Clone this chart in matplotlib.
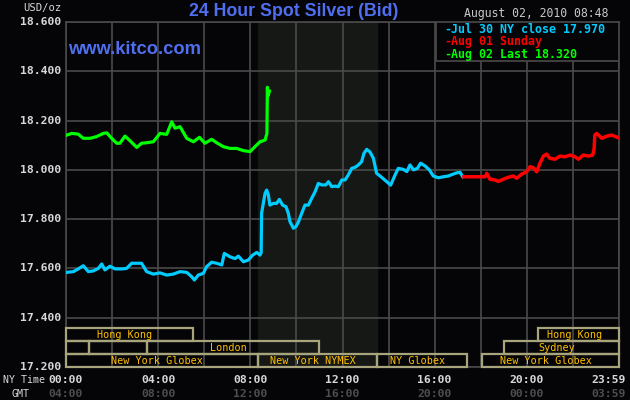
import matplotlib
matplotlib.use("Agg")
import matplotlib.pyplot as plt
from matplotlib.patches import Rectangle
from matplotlib.transforms import blended_transform_factory

# Jul 30 (NY close 17.970), hours NY time
jul30_h = [0.03, 0.32, 0.53, 0.75, 0.97, 1.19, 1.4, 1.55, 1.69, 1.91,
           2.13, 2.42, 2.63, 2.85, 3.07, 3.28, 3.5, 3.79, 4.08, 4.37,
           4.66, 4.95, 5.24, 5.46, 5.57, 5.74, 5.96, 6.1, 6.32, 6.54,
           6.76, 6.87, 7.12, 7.34, 7.48, 7.7, 7.91, 8.1, 8.28, 8.42,
           8.47, 8.49, 8.64, 8.71, 8.78, 8.85, 9.0, 9.14, 9.26, 9.4,
           9.55, 9.65, 9.72, 9.87, 9.98, 10.08, 10.23, 10.37, 10.52, 10.66,
           10.81, 10.95, 11.1, 11.28, 11.39, 11.53, 11.68, 11.82, 11.97, 12.11,
           12.25, 12.4, 12.54, 12.69, 12.83, 12.93, 13.05, 13.19, 13.34, 13.48,
           13.63, 13.92, 14.09, 14.28, 14.42, 14.64, 14.79, 14.93, 15.08, 15.25,
           15.39, 15.58, 15.77, 15.94, 16.16, 16.38, 16.59, 16.81, 16.96, 17.1,
           17.22]
jul30_v = [17.584, 17.587, 17.598, 17.611, 17.587, 17.590, 17.600, 17.618, 17.594, 17.609,
           17.598, 17.598, 17.600, 17.621, 17.621, 17.621, 17.587, 17.577, 17.582, 17.573,
           17.577, 17.587, 17.584, 17.566, 17.553, 17.573, 17.580, 17.607, 17.625, 17.621,
           17.614, 17.661, 17.647, 17.640, 17.650, 17.627, 17.634, 17.654, 17.665, 17.654,
           17.664, 17.825, 17.905, 17.918, 17.899, 17.857, 17.864, 17.864, 17.880, 17.857,
           17.850, 17.823, 17.790, 17.763, 17.770, 17.787, 17.824, 17.857, 17.857, 17.884,
           17.911, 17.945, 17.939, 17.939, 17.952, 17.932, 17.934, 17.932, 17.959, 17.959,
           17.979, 18.006, 18.010, 18.020, 18.033, 18.067, 18.083, 18.073, 18.047, 17.986,
           17.975, 17.952, 17.938, 17.979, 18.006, 18.002, 17.993, 18.020, 18.000, 18.006,
           18.027, 18.016, 18.000, 17.975, 17.968, 17.972, 17.975, 17.983, 17.988, 17.990,
           17.972]

# Aug 01 Sunday
aug01_h = [17.27, 18.19, 18.26, 18.4, 18.62, 18.76, 18.98, 19.2, 19.41, 19.56,
           19.78, 19.99, 20.14, 20.28, 20.43, 20.57, 20.72, 20.86, 21.0, 21.22,
           21.44, 21.66, 21.88, 22.09, 22.24, 22.45, 22.67, 22.86, 22.92, 22.95,
           23.03, 23.18, 23.25, 23.47, 23.69, 23.98]
aug01_v = [17.972, 17.972, 17.986, 17.962, 17.959, 17.953, 17.962, 17.970, 17.975, 17.966,
           17.983, 17.992, 18.013, 18.009, 17.992, 18.027, 18.056, 18.064, 18.047, 18.043,
           18.056, 18.053, 18.060, 18.053, 18.043, 18.060, 18.056, 18.060, 18.087, 18.141,
           18.148, 18.135, 18.128, 18.137, 18.141, 18.130]

# Aug 02 (last 18.320)
aug02_h = [0.03, 0.25, 0.53, 0.75, 1.04, 1.33, 1.62, 1.77, 1.98, 2.2,
           2.34, 2.56, 2.78, 3.07, 3.28, 3.5, 3.79, 4.08, 4.37, 4.59,
           4.73, 4.95, 5.24, 5.53, 5.79, 6.03, 6.32, 6.54, 6.83, 7.12,
           7.41, 7.7, 7.99, 8.2, 8.42, 8.64, 8.72, 8.74, 8.76, 8.8,
           8.83]
aug02_v = [18.141, 18.148, 18.145, 18.128, 18.128, 18.135, 18.148, 18.150, 18.128, 18.108,
           18.108, 18.137, 18.118, 18.091, 18.108, 18.110, 18.114, 18.148, 18.144, 18.195,
           18.169, 18.175, 18.128, 18.114, 18.132, 18.108, 18.124, 18.110, 18.094, 18.087,
           18.087, 18.078, 18.074, 18.094, 18.114, 18.121, 18.148, 18.335, 18.300, 18.310,
           18.320]

legend_labels = ["Jul 30 NY close 17.970", "Aug 01 Sunday", "Aug 02 Last 18.320"]
ny_ticks = [0, 4, 8, 12, 16, 20, 24]
ny_labels = ["00:00", "04:00", "08:00", "12:00", "16:00", "20:00", "23:59"]
gmt_labels = ["04:00", "08:00", "12:00", "16:00", "20:00", "00:00", "03:59"]
y_ticks = [17.2, 17.4, 17.6, 17.8, 18.0, 18.2, 18.4, 18.6]
nymex_open, nymex_close = 8.333, 13.5

# market sessions: (row, name, start hour, end hour)
sessions = [
    (0, "Hong Kong", 0, 5.5), (0, "Hong Kong", 20.5, 24),
    (1, "", 0, 1.0), (1, "", 1.0, 3.5), (1, "London", 3.5, 11.0), (1, "Sydney", 19.0, 24),
    (2, "New York Globex", 0, 8.33), (2, "New York NYMEX", 8.33, 13.5),
    (2, "NY Globex", 13.5, 17.4), (2, "New York Globex", 18.06, 24),
]

BG = "#050508"
GRID = "#4a4a4a"
MONO = "DejaVu Sans Mono"

fig = plt.figure(figsize=(6.3, 4.0), dpi=100, facecolor=BG)
ax = fig.add_axes([66 / 630, 33 / 400, 553 / 630, 345 / 400], facecolor=BG)

ax.axvspan(nymex_open, nymex_close, color="#151815", zorder=0)

ax.set_xlim(0, 24)
ax.set_ylim(17.2, 18.6)
ax.set_xticks(range(0, 25, 2))
ax.set_yticks(y_ticks)
ax.grid(True, color=GRID, lw=1.2, zorder=1)
ax.tick_params(length=0, labelbottom=False, labelleft=False)
for s in ax.spines.values():
    s.set_color(GRID)
    s.set_linewidth(1.2)

ax.plot(jul30_h, jul30_v, color="#00ccff", lw=2.3, zorder=3)
ax.plot(aug01_h, aug01_v, color="#ff0000", lw=2.5, zorder=3)
ax.plot(aug02_h, aug02_v, color="#00ff00", lw=2.3, zorder=3)

# session boxes
bt = blended_transform_factory(ax.transData, ax.transAxes)
row_h = 13 / 345
for row, name, a, b in sessions:
    y0 = (2 - row) * row_h
    ax.add_patch(Rectangle((a, y0), b - a, row_h, transform=bt, fill=False,
                           ec="#a8a47c", lw=1.6, zorder=4, clip_on=False))
    if name:
        ax.text((a + b) / 2 - 0.2, y0 + row_h / 2 - 0.002, name, transform=bt,
                ha="center", va="center", color="#ffc000", fontsize=7.3,
                family=MONO, zorder=5)

# legend box
ax.add_patch(Rectangle((0.669, 0.887), 0.331, 0.113, transform=ax.transAxes,
                       fc=BG, ec=GRID, lw=1.2, zorder=6))
leg_colors = ["#00ccff", "#ff0000", "#00ff00"]
for i, (lab, c) in enumerate(zip(legend_labels, leg_colors)):
    yy = 0.979 - i * 0.036
    ax.text(0.6835, yy, "-", transform=ax.transAxes, ha="left", va="center",
            color=c, fontsize=8.4, family=MONO, weight="bold", zorder=7)
    ax.text(0.697, yy, lab, transform=ax.transAxes, ha="left", va="center",
            color=c, fontsize=8.4, family=MONO, weight="bold", zorder=7)

# y tick labels
for v in y_ticks:
    ax.text(-5 / 553, v, f"{v:.3f}", transform=blended_transform_factory(ax.transAxes, ax.transData),
            ha="right", va="center", color="#d8d8d8", fontsize=8.2, family=MONO, weight="bold")

# x tick labels
for h, ny, gmt in zip(ny_ticks, ny_labels, gmt_labels):
    xx = h if h < 24 else 23.56
    fig.text((66 + xx * 553 / 24) / 630, 1 - 380 / 400, ny, ha="center", va="center",
             color="#d8d8d8", fontsize=8.2, family=MONO, weight="bold")
    fig.text((66 + xx * 553 / 24) / 630, 1 - 394 / 400, gmt, ha="center", va="center",
             color="#4e4e4e", fontsize=8.2, family=MONO, weight="bold")

fig.text(3 / 630, 1 - 380 / 400, "NY Time", ha="left", va="center",
         color="#d8d8d8", fontsize=7.2, family=MONO)
fig.text(20 / 630, 1 - 394 / 400, "GMT", ha="center", va="center",
         color="#d8d8d8", fontsize=7.2, family=MONO)
fig.text(62 / 630, 1 - 8 / 400, "USD/oz", ha="right", va="center",
         color="#d8d8d8", fontsize=7.6, family=MONO)

fig.text(294 / 630, 1 - 11 / 400, "24 Hour Spot Silver (Bid)", ha="center", va="center",
         color="#4f6ff0", fontsize=12.8, family="Liberation Sans", weight="bold")
fig.text(68 / 630, 1 - 49 / 400, "www.kitco.com", ha="left", va="center",
         color="#4f6ff0", fontsize=13.2, family="Liberation Sans", weight="bold")
fig.text(608 / 630, 1 - 14 / 400, "August 02, 2010 08:48", ha="right", va="center",
         color="#c8c8c8", fontsize=8.3, family=MONO)

fig.savefig("out.png", dpi=100, facecolor=BG)
